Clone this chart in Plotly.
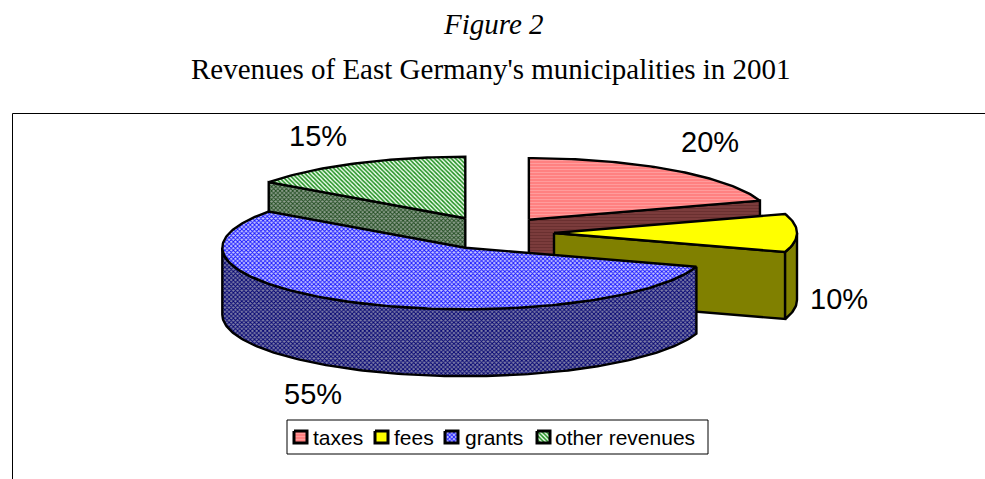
import math
import plotly.graph_objects as go

categories = ["taxes", "fees", "grants", "other revenues"]
values = [20, 10, 55, 15]
top_bg = ["#FF7878", "#FFFF00", "#C8C8FF", "#F0FFF0"]
top_fg = ["#FF9C9C", "#FFFF00", "#1010FF", "#1E8E1E"]
side_bg = ["#804040", "#808000", "#8080A8", "#8FA08F"]
side_fg = ["#6A3030", "#808000", "#000070", "#1E4A1E"]
shapes_ = ["-", "", "x", "\\"]
draw_order = [3, 0, 1, 2]

CX, CY, RX, RY, DEPTH = 493, 233, 243, 61.5, 67
EXPLODE_X, EXPLODE_Y = 61, 16.5

fig = go.Figure()
spans, a = [], 0.0
for v in values:
    spans.append((a, a + v * 3.6))
    a += v * 3.6


def pt(c, ang, dz=0):
    t = math.radians(ang)
    return c[0] + RX * math.sin(t), c[1] - RY * math.cos(t) + dz


def arc(c, a0, a1, dz=0):
    n = max(2, int(abs(a1 - a0)) + 1)
    return [pt(c, a0 + (a1 - a0) * i / (n - 1), dz) for i in range(n)]


def poly(points, bg, fg, shape, size=3, solidity=0.5, lw=2.4):
    pts = points + [points[0]]
    fp = dict(shape=shape, bgcolor=bg, fgcolor=fg, size=size, solidity=solidity, fillmode="replace")
    fig.add_trace(go.Scatter(
        x=[p[0] for p in pts], y=[p[1] for p in pts], mode="lines", fill="toself",
        line=dict(color="black", width=lw), fillcolor=bg, fillpattern=fp,
        showlegend=False, hoverinfo="skip"))


for i in draw_order:
    a0, a1 = spans[i]
    mid = math.radians((a0 + a1) / 2)
    c = (CX + EXPLODE_X * math.sin(mid), CY - EXPLODE_Y * math.cos(mid))
    kw = dict(bg=side_bg[i], fg=side_fg[i], shape=shapes_[i] if i != 3 else "x")
    for ang, show in ((a0, 180 < a0 < 360), (a1, 0 < a1 < 180)):
        if show:
            e = pt(c, ang)
            poly([c, e, (e[0], e[1] + DEPTH), (c[0], c[1] + DEPTH)], **kw)
    r0, r1 = max(a0, 90), min(a1, 270)
    if r1 > r0:
        poly(arc(c, r0, r1) + arc(c, r1, r0, DEPTH), **kw)
    poly([c] + arc(c, a0, a1), top_bg[i], top_fg[i], shapes_[i])

# legend swatches
swatch_x = [294, 375, 445, 537]
label_x = [311, 392, 463, 553]
for i, sx in enumerate(swatch_x):
    poly([(sx, 431), (sx + 13, 431), (sx + 13, 443), (sx, 443)], top_bg[i], top_fg[i], shapes_[i], lw=3)

SANS = "Liberation Sans"
SERIF = "Liberation Serif"
ann = [
    dict(x=493, y=24, text="<i>Figure 2</i>", font=dict(family=SERIF, size=29, color="black")),
    dict(x=491, y=69, text="Revenues of East Germany's municipalities in 2001",
         font=dict(family=SERIF, size=29, color="black")),
]
label_pos = [(710, 142), (839, 299), (313, 394), (318, 136)]
for v, (lx, ly) in zip(values, label_pos):
    ann.append(dict(x=lx, y=ly, text=f"{v}%", font=dict(family=SANS, size=29, color="black")))
for name, lx in zip(categories, label_x):
    ann.append(dict(x=lx, y=437, text=name, xanchor="left", font=dict(family=SANS, size=21, color="black")))
for a_ in ann:
    a_.update(xref="x", yref="y", showarrow=False)
    a_.setdefault("xanchor", "center")
    a_.update(yanchor="middle")

fig.update_layout(
    width=985, height=479, margin=dict(l=0, r=0, t=0, b=0, pad=0),
    paper_bgcolor="white", plot_bgcolor="white", showlegend=False,
    xaxis=dict(range=[0, 985], visible=False, fixedrange=True),
    yaxis=dict(range=[479, 0], visible=False, fixedrange=True),
    annotations=ann,
    shapes=[
        dict(type="rect", xref="x", yref="y", x0=287, x1=708, y0=420, y1=454,
             line=dict(color="black", width=1), layer="below"),
        dict(type="path", xref="x", yref="y", path="M 12.5 479 L 12.5 113.5 L 985 113.5",
             line=dict(color="black", width=1)),
    ],
)
fig.write_html("out.html", config=dict(displayModeBar=False),
               post_script="document.body.style.margin='0';document.documentElement.style.overflow='hidden';")
